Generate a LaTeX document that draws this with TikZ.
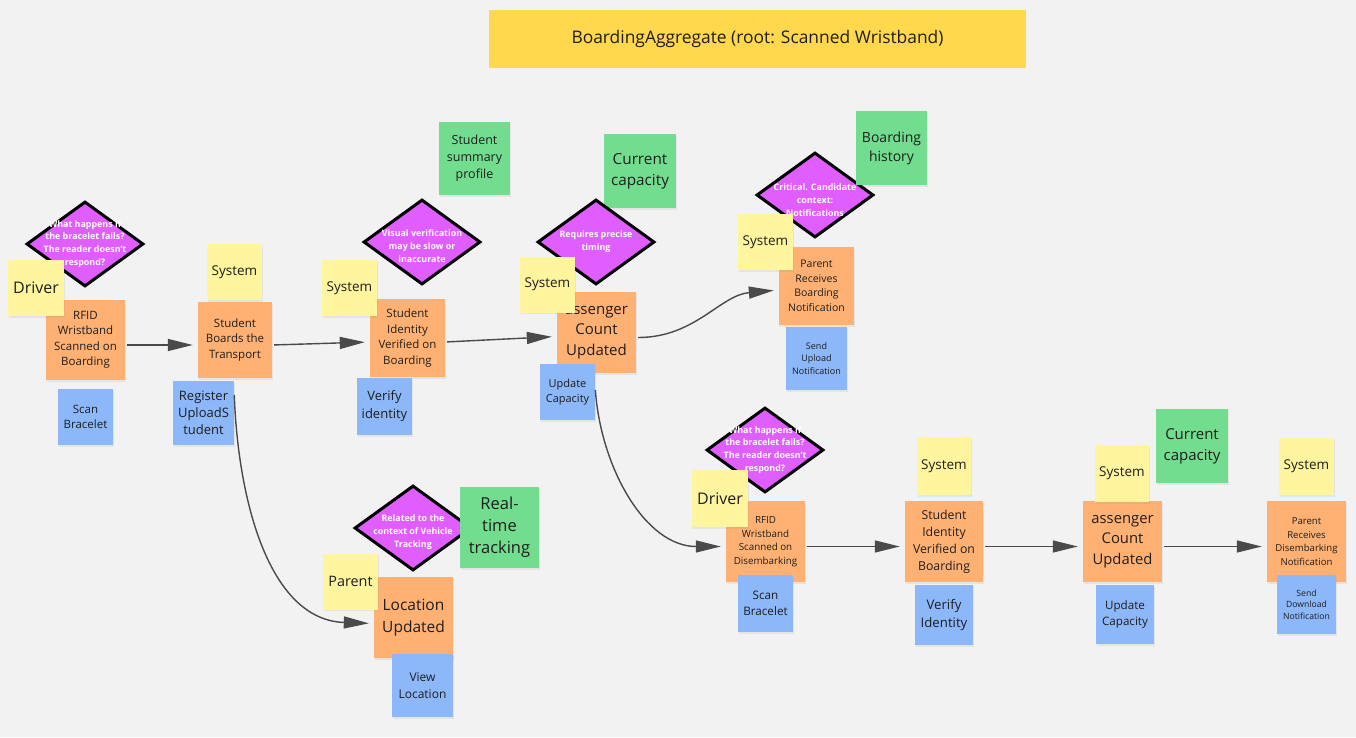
\documentclass[tikz,border=0pt]{standalone}
\usepackage{fontspec}
\setmainfont{Open Sans}
\usepackage{xcolor}
\usetikzlibrary{arrows.meta,positioning,shapes.geometric,shadows}

\definecolor{boardbg}{HTML}{F2F2F2}
\definecolor{titlec}{HTML}{FFD84D}
\definecolor{actorc}{HTML}{FFF59E}
\definecolor{eventc}{HTML}{FFB173}
\definecolor{cmdc}{HTML}{8CB7F8}
\definecolor{readc}{HTML}{72DD8E}
\definecolor{hotc}{HTML}{E05DFF}
\definecolor{flowc}{HTML}{4A4A4A}
\definecolor{inkc}{HTML}{1E1E1E}
\newcommand{\fsz}[2]{\fontsize{#1}{#2}\selectfont}

\begin{document}
\begin{tikzpicture}[x=1pt, y=-1pt,
  note/.style={align=center, inner sep=1pt, text=inkc,
    drop shadow={shadow xshift=1pt, shadow yshift=-1.5pt, opacity=0.12}},
  actor/.style={note, fill=actorc, minimum width=55pt, minimum height=56pt, font=\fsz{13.5}{17}},
  event/.style={note, fill=eventc, minimum width=78pt, minimum height=79pt, font=\fsz{11.5}{15.5}},
  command/.style={note, fill=cmdc, minimum width=56pt, minimum height=57pt, font=\fsz{11.5}{15.5}},
  readm/.style={note, fill=readc, minimum width=72pt, minimum height=74pt, font=\fsz{13.5}{18}},
  hotspot/.style={diamond, draw=black, line width=3pt, fill=hotc, minimum width=117pt, minimum height=85pt, inner sep=0pt},
  hottext/.style={text=white, align=center, font=\bfseries\fsz{8.9}{12.8}},
  flow/.style={draw=flowc, line width=1.4pt, -{Triangle[length=25pt,width=12pt]}, shorten <=2pt, shorten >=5pt}]

  \useasboundingbox[fill=boardbg] (0,0) rectangle (1356,737);

  \node[fill=titlec, minimum width=537pt, minimum height=58pt, font=\fsz{17.4}{21}, text=inkc] (title)
       at (757.5,39) {BoardingAggregate (root: Scanned Wristband)};

  \node[readm, minimum width=71pt, minimum height=73pt, font=\fsz{12.5}{17}] (ssp) at (474.5,158.5) {Student\\summary\\profile};
  \node[readm, font=\fsz{15.3}{21}] (cc1) at (640,171) {Current\\capacity};

  \node[hotspot] (q1) at (85,244) {};
  \node[hottext] (q1t) at (q1) {What happens if\\the bracelet fails?\\The reader doesn't\\respond?};
  \node[hotspot] (q2) at (422,242) {};
  \node[hottext] (q2t) at ([yshift=-4pt]q2.center) {Visual verification\\may be slow or\\inaccurate};
  \node[hotspot] (q3) at (596,242) {};
  \node[hottext] (q3t) at (q3) {Requires precise\\timing};
  \node[hotspot] (q4) at (815,195) {};
  \node[hottext] (q4t) at ([yshift=-5pt]q4.center) {Critical. Candidate\\context:\\Notifications};
  \node[hotspot] (q5) at (413,528) {};
  \node[hottext] (q5t) at ([yshift=-4pt]q5.center) {Related to the\\context of Vehicle\\Tracking};
  \node[hotspot] (q6) at (765,450) {};
  \node[hottext] (q6t) at (q6) {What happens if\\the bracelet fails?\\The reader doesn't\\respond?};

  \node[event, minimum width=79pt, minimum height=80pt] (rf1) at (85.5,340) {RFID\\Wristband\\Scanned on\\Boarding};
  \node[event, minimum width=74pt, minimum height=76pt] (sb) at (235,340) {Student\\Boards the\\Transport};
  \node[event, minimum width=75pt, minimum height=78pt] (si1) at (407.5,338) {Student\\Identity\\Verified on\\Boarding};
  \node[event, minimum width=79pt, minimum height=81pt, font=\fsz{15}{20.5}] (pc1) at (596.5,332.5) {assenger\\Count\\Updated};
  \node[event, minimum width=75pt, minimum height=78pt, font=\fsz{10.5}{14.5}] (pr1) at (816.5,286) {Parent\\Receives\\Boarding\\Notification};
  \node[event, minimum width=79pt, minimum height=81pt, font=\fsz{15.5}{21.5}] (loc) at (413.5,617.5) {Location\\Updated};
  \node[event, minimum width=79pt, minimum height=81pt, font=\fsz{9.8}{13.5}] (rf2) at (765.5,541.5) {RFID\\Wristband\\Scanned on\\Disembarking};
  \node[event, minimum width=78pt, minimum height=81pt, font=\fsz{12.3}{17}] (si2) at (944,541.5) {Student\\Identity\\Verified on\\Boarding};
  \node[event, minimum width=79pt, minimum height=81pt, font=\fsz{14.8}{20.5}] (pc2) at (1122.5,541.5) {assenger\\Count\\Updated};
  \node[event, minimum width=79pt, minimum height=81pt, font=\fsz{9.6}{13.5}] (pr2) at (1306.5,541.5) {Parent\\Receives\\Disembarking\\Notification};

  \node[command, minimum width=55pt, minimum height=56pt] (sc1) at (85.5,417) {Scan\\Bracelet};
  \node[command, minimum width=61pt, minimum height=64pt, font=\fsz{13}{17}] (reg) at (203.5,413) {Register\\UploadS\\tudent};
  \node[command, minimum width=55pt, minimum height=57pt, font=\fsz{13}{18}] (vi1) at (384.5,406.5) {Verify\\identity};
  \node[command, minimum width=55pt, minimum height=56pt, font=\fsz{11}{15.5}] (uc1) at (567.5,392) {Update\\Capacity};
  \node[command, minimum width=61pt, minimum height=63pt, font=\fsz{9}{12.5}] (su) at (816.5,358.5) {Send\\Upload\\Notification};
  \node[command, minimum width=61pt, minimum height=63pt, font=\fsz{12}{17}] (vl) at (422.5,685.5) {View\\Location};
  \node[command, minimum width=55pt, minimum height=57pt, font=\fsz{11.7}{16}] (sc2) at (765.5,603.5) {Scan\\Bracelet};
  \node[command, minimum width=58pt, minimum height=60pt, font=\fsz{13.2}{18}] (vi2) at (944,615) {Verify\\Identity};
  \node[command, minimum width=58pt, minimum height=59pt, font=\fsz{11.6}{16}] (uc2) at (1125,614.5) {Update\\Capacity};
  \node[command, minimum width=59pt, minimum height=59pt, font=\fsz{8.6}{11.5}] (sd) at (1306.5,604.5) {Send\\Download\\Notification};

  \node[actor, minimum width=56pt, font=\fsz{16}{20}] (drv1) at (36,288) {Driver};
  \node[actor] (sys1) at (234.5,272) {System};
  \node[actor] (sys2) at (349.5,288) {System};
  \node[actor] (sys3) at (547.5,284.5) {System};
  \node[actor] (sys4) at (765.5,242) {System};
  \node[actor, font=\fsz{14.4}{18}] (par) at (350.5,581.5) {Parent};
  \node[actor, minimum width=56pt, minimum height=57pt, font=\fsz{16}{20}] (drv2) at (720,498.5) {Driver};
  \node[actor, minimum width=54pt, minimum height=58pt] (sys5) at (944,466) {System};
  \node[actor, minimum width=54pt, minimum height=57pt] (sys6) at (1122,473.5) {System};
  \node[actor, minimum height=57pt] (sys7) at (1306.5,466.5) {System};

  \node[readm, minimum width=71pt, font=\fsz{14}{19}] (bh) at (891.5,148) {Boarding\\history};
  \node[readm, minimum width=79pt, minimum height=81pt, font=\fsz{16.5}{22}] (rt) at (499.5,527.5) {Real-\\time\\tracking};
  \node[readm, font=\fsz{15}{21}] (cc2) at (1192,446) {Current\\capacity};

  \draw[flow] ([yshift=-5pt]rf1.east) -- ([yshift=-5pt]sb.west);
  \draw[flow] ([yshift=-5pt]sb.east) -- ([yshift=-4pt]si1.west);
  \draw[flow] ([yshift=-4pt]si1.east) -- ([yshift=-4pt]pc1.west);
  \draw[flow] ([yshift=-5pt]pc1.east) to[out=0, in=185] ([yshift=-4pt]pr1.west);
  \draw[flow] ([yshift=-12pt]reg.north east) to[out=-88, in=178] ([yshift=-6pt]loc.west);
  \draw[flow] ([yshift=-24pt]uc1.north east) to[out=-86, in=180] ([yshift=-5pt]rf2.west);
  \draw[flow] ([yshift=-5pt]rf2.east) -- ([yshift=-5pt]si2.west);
  \draw[flow] ([yshift=-5pt]si2.east) -- ([yshift=-5pt]pc2.west);
  \draw[flow] ([yshift=-5pt]pc2.east) -- ([yshift=-5pt]pr2.west);
\end{tikzpicture}
\end{document}
